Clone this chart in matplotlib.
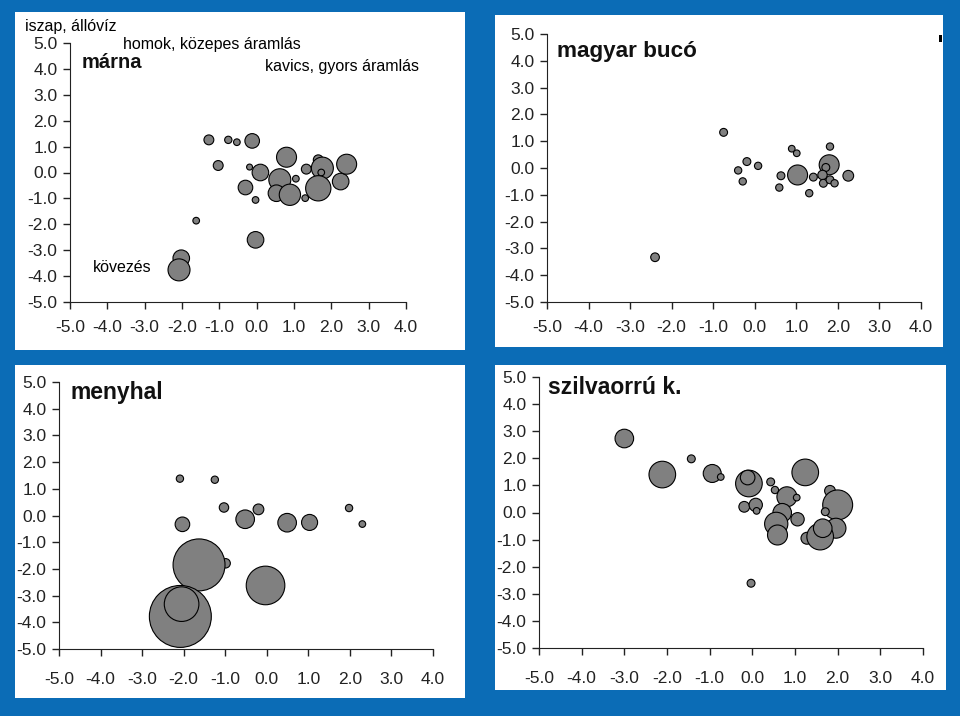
import matplotlib.pyplot as plt
from matplotlib.patches import Rectangle

plt.rcParams['font.family'] = ['Liberation Sans', 'DejaVu Sans']

# marna
marna_x = [-1.28, -0.76, -0.53, -0.12, -1.03, -0.19, 0.10, -0.30, -0.03, 0.80, 0.62, 0.53, 0.89,
           1.05, 1.33, 1.30, 1.65, 1.76, 1.73, 1.65, 2.25, 2.41, -1.62, -0.03, -2.02, -2.08]
marna_y = [1.26, 1.26, 1.17, 1.22, 0.27, 0.21, 0.00, -0.58, -1.06, 0.59, -0.28, -0.80, -0.86,
           -0.24, 0.13, -0.99, 0.49, 0.17, 0.00, -0.61, -0.35, 0.32, -1.86, -2.60, -3.31, -3.76]
marna_s = [2.2, 1.2, 1.0, 4.8, 2.2, 0.8, 6.2, 4.8, 1.0, 9.0, 10.9, 6.2, 10.2,
           1.0, 2.2, 1.0, 2.2, 10.9, 1.0, 14.4, 6.2, 9.0, 1.0, 6.2, 6.2, 10.9]

# magyar buco
buco_x = [-0.75, -2.40, -0.19, 0.08, -0.40, -0.29, 0.89, 1.01, 0.63, 0.59, 1.03, 1.41, 1.31,
          1.81, 1.79, 1.71, 1.63, 1.65, 1.81, 1.92, 2.25]
buco_y = [1.33, -3.33, 0.24, 0.08, -0.09, -0.50, 0.72, 0.55, -0.29, -0.73, -0.26, -0.34, -0.94,
          0.80, 0.12, 0.02, -0.26, -0.57, -0.44, -0.57, -0.29]
buco_s = [1.4, 1.7, 1.4, 1.2, 1.2, 1.2, 1.0, 1.0, 1.4, 1.2, 9.0, 1.4, 1.2,
          1.2, 9.0, 1.4, 2.0, 1.4, 1.4, 1.2, 2.6]

# menyhal
menyhal_x = [-2.09, -1.25, -1.03, -0.20, -2.03, -0.52, 0.49, 1.03, 1.98, 2.30, -0.99, -1.63,
             -0.03, -2.08, -2.05]
menyhal_y = [1.38, 1.34, 0.30, 0.23, -0.33, -0.14, -0.27, -0.26, 0.28, -0.32, -1.79, -1.85,
             -2.62, -3.78, -3.32]
menyhal_s = [1.2, 1.2, 2.0, 2.6, 4.8, 7.8, 7.8, 5.8, 1.2, 1.0, 2.0, 60.8,
             33.6, 86.5, 27.0]

# szilvaorru keszeg
szilva_x = [-3.00, -2.11, -1.43, -0.94, -0.74, -0.08, -0.11, 0.43, 0.53, 1.24, 0.81, 1.04, -0.19,
            0.08, 0.10, 0.70, 1.06, 0.56, 0.59, 1.82, 2.00, 1.71, 1.96, 1.28, 1.59, 1.65, -0.03]
szilva_y = [2.73, 1.40, 1.98, 1.44, 1.31, 1.07, 1.29, 1.13, 0.83, 1.48, 0.58, 0.55, 0.21,
            0.28, 0.06, -0.01, -0.25, -0.42, -0.83, 0.80, 0.28, 0.03, -0.58, -0.95, -0.89, -0.58, -2.61]
szilva_s = [7.8, 16.0, 1.4, 7.3, 1.0, 16.0, 4.8, 1.4, 1.2, 16.0, 9.0, 1.0, 2.6,
            4.0, 1.0, 7.8, 4.0, 12.2, 9.0, 2.6, 20.2, 1.4, 9.0, 3.2, 16.0, 7.8, 1.4]

xticks = [-5, -4, -3, -2, -1, 0, 1, 2, 3, 4]
yticks = [-5, -4, -3, -2, -1, 0, 1, 2, 3, 4, 5]

W, H = 960, 716
fig = plt.figure(figsize=(9.6, 7.16), dpi=100)
fig.patch.set_facecolor('#0b6cb6')


def px(x0, y0, x1, y1):
    return [x0 / W, 1 - y1 / H, (x1 - x0) / W, (y1 - y0) / H]


# white slide panels
for box in [(15, 12, 465, 350), (495, 15, 943, 347), (15, 365, 465, 698), (495, 365, 946, 690)]:
    bg = fig.add_axes(px(*box), zorder=-5)
    bg.set_axis_off()
    bg.add_patch(Rectangle((0, 0), 1, 1, transform=bg.transAxes, facecolor='white',
                           edgecolor='none'))
fig.patches.append(Rectangle((939 / W, 1 - 42 / H), 3 / W, 7 / H, transform=fig.transFigure,
                             facecolor='black', edgecolor='none', zorder=1))

panels = [
    (px(70, 43, 406, 302), marna_x, marna_y, marna_s, 'márna', (82, 62), 14.5, 8.3),
    (px(547, 34, 921, 302), buco_x, buco_y, buco_s, 'magyar bucó', (557, 52), 16.2, 8.3),
    (px(59, 382, 433, 649), menyhal_x, menyhal_y, menyhal_s, 'menyhal', (70, 392), 16.5, 11.5),
    (px(539, 377, 923, 648), szilva_x, szilva_y, szilva_s, 'szilvaorrú k.', (548, 388), 16.5, 11.5),
]

for rect, xs, ys, ss, title, tpos, tsize, xpad in panels:
    ax = fig.add_axes(rect)
    ax.set_facecolor('none')
    ax.scatter(xs, ys, s=[23 * v for v in ss], c='#808080', edgecolors='black',
               linewidths=0.8, clip_on=False, zorder=3)
    ax.set_xlim(-5, 4)
    ax.set_ylim(-5, 5)
    ax.set_xticks(xticks)
    ax.set_yticks(yticks)
    ax.set_xticklabels(['%.1f' % v for v in xticks])
    ax.set_yticklabels(['%.1f' % v for v in yticks])
    ax.tick_params(labelsize=12.5, colors='#222222', length=5, width=1)
    ax.tick_params(axis='x', pad=xpad)
    ax.tick_params(axis='y', pad=4)
    ax.spines['top'].set_visible(False)
    ax.spines['right'].set_visible(False)
    for side in ['left', 'bottom']:
        ax.spines[side].set_color('#222222')
    fig.text(tpos[0] / W, 1 - tpos[1] / H, title, fontsize=tsize, fontweight='bold',
             ha='left', va='center', color='#111111')

# habitat labels on the first panel
fig.text(25 / W, 1 - 27 / H, 'iszap, állóvíz', fontsize=11.5, va='center', ha='left')
fig.text(123 / W, 1 - 44 / H, 'homok, közepes áramlás', fontsize=11.5, va='center', ha='left')
fig.text(265 / W, 1 - 66 / H, 'kavics, gyors áramlás', fontsize=11.5, va='center', ha='left')
fig.text(93 / W, 1 - 268 / H, 'kövezés', fontsize=11.5, va='center', ha='left')

fig.savefig('out.png', dpi=100, facecolor=fig.get_facecolor())
